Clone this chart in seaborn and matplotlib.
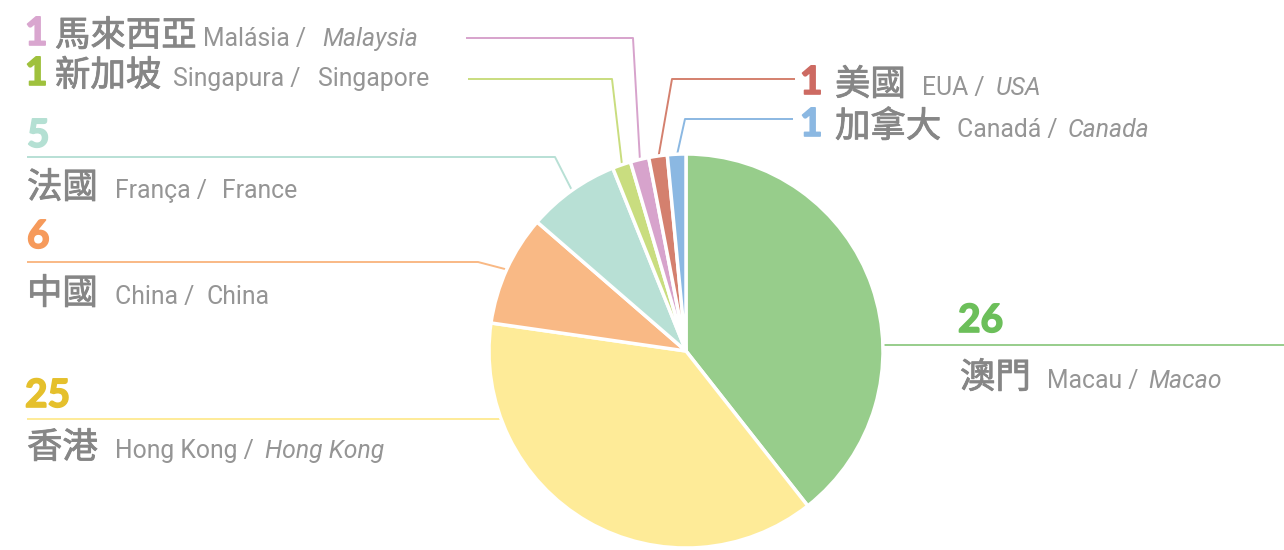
import numpy as np
import matplotlib.pyplot as plt
import matplotlib.patheffects as pe
import seaborn as sns

# Visitors by place of origin
zh = ["澳門", "香港", "中國", "法國", "新加坡", "馬來西亞", "美國", "加拿大"]
pt = ["Macau", "Hong Kong", "China", "França", "Singapura", "Malásia", "EUA", "Canadá"]
en = ["Macao", "Hong Kong", "China", "France", "Singapore", "Malaysia", "USA", "Canada"]
counts = [26, 25, 6, 5, 1, 1, 1, 1]
en_italic = [True, True, False, False, False, True, True, True]

wedge_colors = ["#97cd8b", "#feeb98", "#f9b985", "#b8e0d5",
                "#c9dd7f", "#d7a3cc", "#d4806e", "#8bb8e2"]
num_colors = ["#6cbf5a", "#e5c02c", "#f69a5b", "#b4e0d3",
              "#9fc13d", "#d9a6cf", "#cd6a62", "#8bb8e2"]

sns.set_theme(style="white")
plt.rcParams['font.family'] = ['Roboto', 'Noto Sans CJK TC', 'DejaVu Sans']

W, H = 1284, 550
CX, CY, R = 686, 351, 197
GRAY = "#959595"
ZH_GRAY = "#868686"

# label layout in pixel coordinates (top-left origin):
# number (x, baseline), name (x, baseline), pt x, en x, leader points, end mode
layout = [
    ((958, 332), (960, 388), 1047, 1148, [(1284, 345)], "rim"),
    ((25, 407), (27, 458), 115, 265, [(27, 419)], "rim"),
    ((27, 248), (27, 304), 115, 207, [(27, 262), (478, 262)], "mid"),
    ((27, 147), (27, 198), 115, 222, [(27, 157), (555, 157)], "mid"),
    ((25, 85), (55, 86), 173, 318, [(468, 79), (612, 79)], "mid"),
    ((25, 45), (55, 46), 203, 322, [(466, 38), (633, 38)], "mid"),
    ((800, 94), (835, 95), 922, 996, [(795, 79), (672, 79)], "mid"),
    ((800, 136), (835, 137), 957, 1068, [(793, 119), (685, 119)], "mid"),
]


def fy(py):
    return H - py


fig = plt.figure(figsize=(W / 100, H / 100), dpi=100)
ax = fig.add_axes([0, 0, 1, 1])

wedges, _ = ax.pie(
    counts,
    colors=sns.color_palette(wedge_colors),
    startangle=90,
    counterclock=False,
    center=(CX, fy(CY)),
    radius=R,
    wedgeprops=dict(edgecolor="white", linewidth=2.5),
)
ax.set_xlim(0, W)
ax.set_ylim(0, H)
ax.set_aspect("equal")
ax.axis("off")

for i, w in enumerate(wedges):
    num_xy, name_xy, pt_x, en_x, pts, mode = layout[i]
    xs = [p[0] for p in pts]
    ys = [fy(p[1]) for p in pts]
    if mode == "mid":
        ang = np.deg2rad((w.theta1 + w.theta2) / 2)
        xs.append(CX + R * 0.99 * np.cos(ang))
        ys.append(fy(CY) + R * 0.99 * np.sin(ang))
    else:
        dy = ys[-1] - fy(CY)
        dx = np.sqrt(R ** 2 - dy ** 2)
        xs.append(CX + dx if xs[-1] > CX else CX - dx)
        ys.append(ys[-1])
    ax.plot(xs, ys, color=wedge_colors[i], lw=1.4, solid_capstyle="butt",
            zorder=0)

    ax.text(num_xy[0], fy(num_xy[1]), str(counts[i]), color=num_colors[i],
            fontsize=28, fontweight="bold", family=["Lato", "DejaVu Sans"],
            va="baseline", ha="left",
            path_effects=[pe.withStroke(linewidth=1.2, foreground=num_colors[i])])
    ax.text(name_xy[0], fy(name_xy[1]), zh[i], color=ZH_GRAY, fontsize=25.5,
            family=["Noto Sans CJK TC", "DejaVu Sans"],
            va="baseline", ha="left",
            path_effects=[pe.withStroke(linewidth=0.6, foreground=ZH_GRAY)])
    ax.text(pt_x, fy(name_xy[1]), pt[i] + " /", color=GRAY, fontsize=17.8,
            va="baseline", ha="left")
    ax.text(en_x, fy(name_xy[1]), en[i], color=GRAY, fontsize=17.8,
            style="italic" if en_italic[i] else "normal",
            va="baseline", ha="left")

fig.savefig("out.png", dpi=100, facecolor="white")
